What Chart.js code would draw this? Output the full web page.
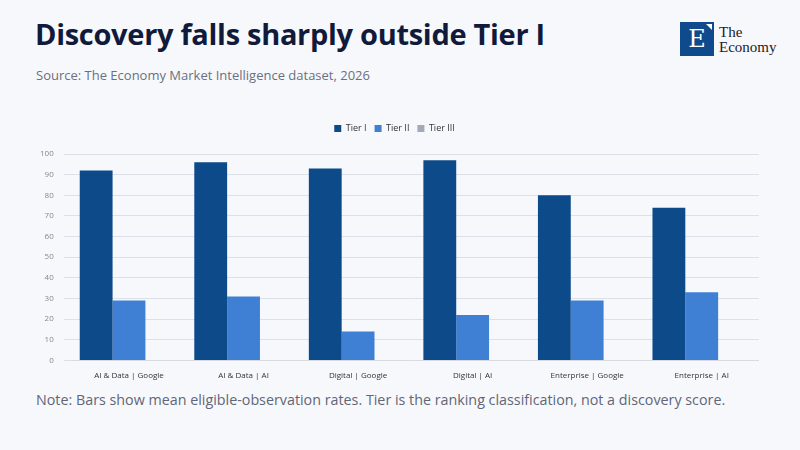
<!DOCTYPE html>
<html>
<head>
<meta charset="utf-8">
<script src="https://cdn.jsdelivr.net/npm/chart.js@4/dist/chart.umd.min.js"></script>
<style>
  html, body { margin: 0; padding: 0; }
  body { width: 800px; height: 450px; background: #f7f8fc; position: relative; overflow: hidden; font-family: "Open Sans", "Noto Sans", sans-serif; }
  h1 { position: absolute; left: 35px; top: 14px; margin: 0; font-family: "Open Sans", sans-serif; font-weight: 700; font-size: 29px; color: #111a3a; letter-spacing: -0.3px; }
  .source { position: absolute; left: 36px; top: 66px; font-size: 13px; color: #6a7080; }
  .note { position: absolute; left: 36px; top: 390px; font-size: 14.3px; color: #5f6678; }
  .logo { position: absolute; left: 680px; top: 22px; }
  .logo .box { position: absolute; left: 0; top: 0; width: 34px; height: 34px; background: #0f4a8c; color: #fff; font-family: "DejaVu Serif", "Liberation Serif", serif; font-size: 24px; text-align: center; line-height: 34px; }
  .logo .box::after { content: ""; position: absolute; right: 2px; top: 2px; border-left: 6px solid transparent; border-top: 6px solid #fff; }
  .logo .txt { position: absolute; left: 39px; top: 3px; font-family: "Liberation Serif", "DejaVu Serif", serif; font-size: 15px; line-height: 15px; color: #1a1a2a; }
  #wrap { position: absolute; left: 30px; top: 116px; width: 729px; height: 268px; }
</style>
</head>
<body>
<h1>Discovery falls sharply outside Tier I</h1>
<div class="source">Source: The Economy Market Intelligence dataset, 2026</div>
<div class="logo"><div class="box">E</div><div class="txt">The<br>Economy</div></div>
<div id="wrap"><canvas id="chart"></canvas></div>
<div class="note">Note: Bars show mean eligible-observation rates. Tier is the ranking classification, not a discovery score.</div>
<script>
const categories = ["AI & Data | Google", "AI & Data | AI", "Digital | Google", "Digital | AI", "Enterprise | Google", "Enterprise | AI"];
const tierI = [92, 96, 93, 97, 80, 74];
const tierII = [29, 31, 14, 22, 29, 33];
const tierIII = [0, 0, 0, 0, 0, 0];
const yTicks = [0, 10, 20, 30, 40, 50, 60, 70, 80, 90, 100];

// extra room under the legend
const legendGap = {
  id: "legendGap",
  beforeInit(chart) {
    const fit = chart.legend.fit;
    chart.legend.fit = function () {
      fit.bind(chart.legend)();
      this.height += 11;
    };
  }
};

new Chart(document.getElementById("chart"), {
  type: "bar",
  data: {
    labels: categories,
    datasets: [
      { label: "Tier I", data: tierI, backgroundColor: "#0d4a8a" },
      { label: "Tier II", data: tierII, backgroundColor: "#3f80d4" },
      { label: "Tier III", data: tierIII, backgroundColor: "#a2a9b8" }
    ]
  },
  plugins: [legendGap],
  options: {
    responsive: true,
    maintainAspectRatio: false,
    animation: false,
    datasets: { bar: { categoryPercentage: 0.86, barPercentage: 1.0 } },
    plugins: {
      legend: {
        position: "top",
        labels: { boxWidth: 7, boxHeight: 7, color: "#333", font: { family: "Open Sans", size: 9 }, padding: 8 }
      },
      tooltip: { enabled: false }
    },
    scales: {
      x: {
        grid: { display: false },
        border: { color: "#d8dbe3" },
        ticks: { color: "#333", font: { family: "Open Sans", size: 8 } }
      },
      y: {
        min: 0,
        max: 100,
        afterBuildTicks: (axis) => { axis.ticks = yTicks.map(v => ({ value: v })); },
        grid: { color: "#dde0e8" },
        border: { display: false },
        ticks: { color: "#888", font: { family: "Open Sans", size: 8 }, padding: 10 }
      }
    }
  }
});
</script>
</body>
</html>
